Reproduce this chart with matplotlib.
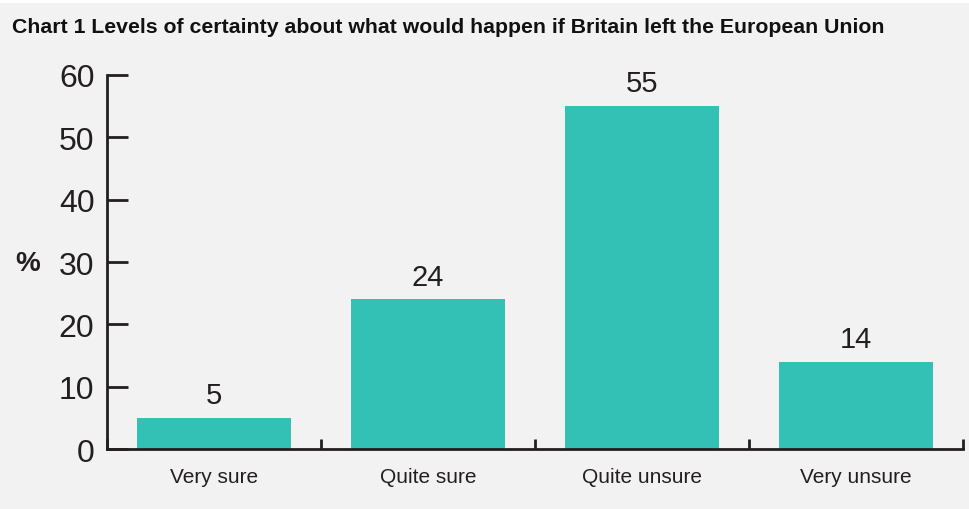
import matplotlib
matplotlib.use('Agg')
import matplotlib.pyplot as plt
from matplotlib.patches import Rectangle
import numpy as np

categories = ['Very sure', 'Quite sure', 'Quite unsure', 'Very unsure']
values = [5, 24, 55, 14]
y_ticks = [0, 10, 20, 30, 40, 50, 60]

title = 'Chart 1 Levels of certainty about what would happen if Britain left the European Union'

plt.rcParams['font.family'] = ['Liberation Sans', 'DejaVu Sans']
bg = '#f2f2f2'
ink = '#231f20'
bar_color = '#33c0b5'

fig = plt.figure(figsize=(9.7, 5.1), dpi=100, facecolor=bg)
# thin white strip along the top edge
fig.patches.append(Rectangle((0, 0.993), 1, 0.007, transform=fig.transFigure,
                             facecolor='white', edgecolor='none'))

ax = fig.add_axes([0.1103, 0.1176, 0.8825, 0.7334])
ax.set_facecolor(bg)

x = np.arange(len(categories))
ax.bar(x, values, width=0.72, color=bar_color, zorder=2)
for xi, v in zip(x, values):
    ax.text(xi, v + 1.4, str(v), ha='center', va='bottom', fontsize=21, color=ink)

ax.set_xlim(-0.5, len(categories) - 0.5)
ax.set_ylim(0, 60)
ax.set_yticks(y_ticks)
ax.set_yticklabels([str(t) for t in y_ticks], fontsize=23, color=ink)
ax.tick_params(axis='y', direction='in', length=15, width=2, color=ink, pad=9)

# category labels as minor ticks, separator ticks as major
ax.set_xticks(np.arange(len(categories) + 1) - 0.5)
ax.set_xticklabels([])
ax.set_xticks(x, minor=True)
ax.set_xticklabels(categories, minor=True, fontsize=15, color=ink)
ax.tick_params(axis='x', which='major', direction='in', length=7, width=2, color=ink)
ax.tick_params(axis='x', which='minor', length=0, pad=13)

for side in ['top', 'right']:
    ax.spines[side].set_visible(False)
for side in ['left', 'bottom']:
    ax.spines[side].set_linewidth(2)
    ax.spines[side].set_color(ink)
    ax.spines[side].set_zorder(3)

fig.text(0.0124, 0.947, title, fontsize=15.3, fontweight='bold', color='#111111',
         ha='left', va='center')
fig.text(0.028, 0.482, '%', fontsize=20, fontweight='bold', color=ink,
         ha='center', va='center')

fig.savefig('out.png', dpi=100, facecolor=bg)
